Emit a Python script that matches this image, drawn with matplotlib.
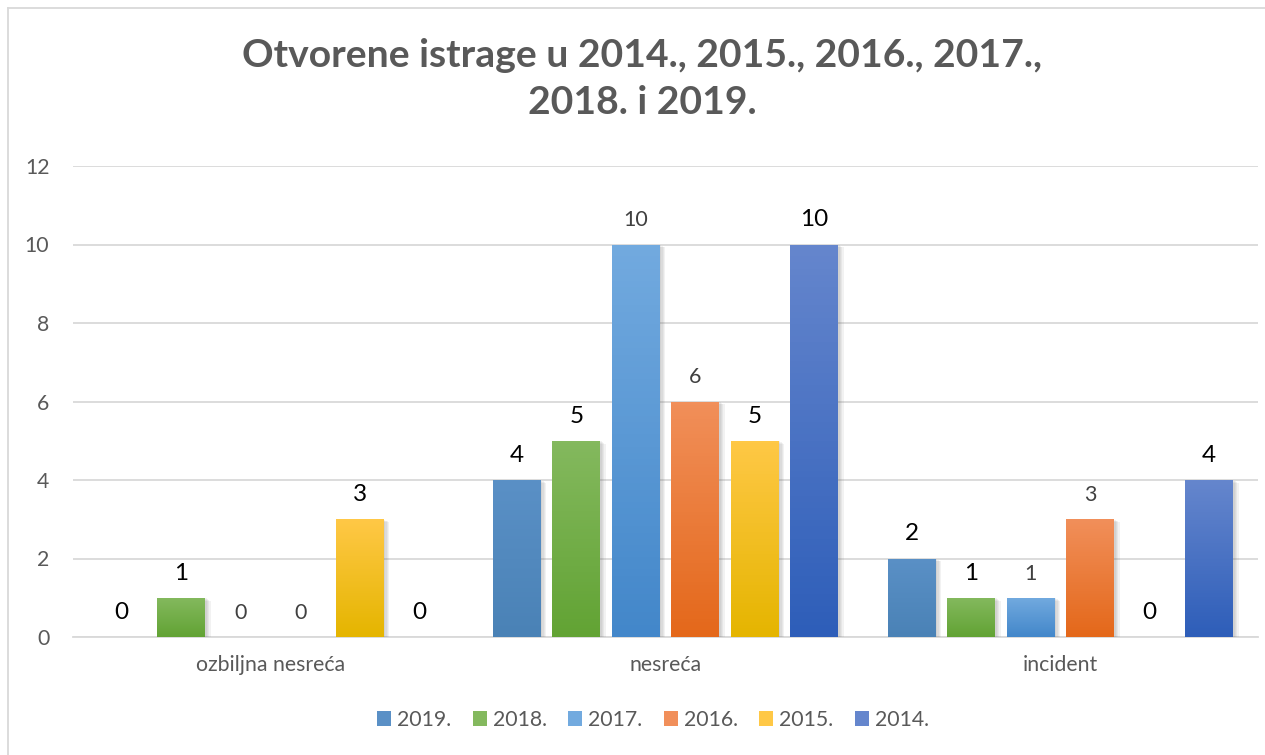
import numpy as np
import matplotlib
matplotlib.use("Agg")
import matplotlib.pyplot as plt
from matplotlib.colors import LinearSegmentedColormap
from matplotlib.patches import Patch
from matplotlib.lines import Line2D
import matplotlib.patheffects as pe

# data
categories = ["ozbiljna nesreća", "nesreća", "incident"]
series = ["2019.", "2018.", "2017.", "2016.", "2015.", "2014."]
v2019 = [0, 4, 2]
v2018 = [1, 5, 1]
v2017 = [0, 10, 1]
v2016 = [0, 6, 3]
v2015 = [3, 5, 0]
v2014 = [0, 10, 4]
values = [v2019, v2018, v2017, v2016, v2015, v2014]
yticks = [0, 2, 4, 6, 8, 10, 12]
title = "Otvorene istrage u 2014., 2015., 2016., 2017.,\n2018. i 2019."

# looks: (top colour, bottom colour), label style per series
grad = [("#5a90c6", "#4a82b6"),
        ("#84b95e", "#62a334"),
        ("#72aadf", "#4387ca"),
        ("#f18f5a", "#e4681a"),
        ("#ffc846", "#e5b500"),
        ("#6586cd", "#2e5eb9")]
bold_label = [True, True, False, False, True, True]

plt.rcParams['font.family'] = ['Lato', 'DejaVu Sans']
GREY = "#595959"
FS = 15.3

fig = plt.figure(figsize=(12.65, 7.55), dpi=100)
ax = fig.add_axes([73/1265, 1-637/755, 1185/1265, 471/755])

# chart border (only top/left visible in the reference)
fig.add_artist(Line2D([8/1265, 8/1265], [0, 1-8/755], transform=fig.transFigure,
                      color="#d9d9d9", lw=1.3))
fig.add_artist(Line2D([8/1265, 1], [1-8/755, 1-8/755], transform=fig.transFigure,
                      color="#d9d9d9", lw=1.3))

x = np.arange(len(categories))
step = 0.1506
width = 0.1215
# soft shadow: a few faint offset copies
shadow = [pe.SimplePatchShadow(offset=(o, -o/2), shadow_rgbFace="#707070", alpha=0.09)
          for o in (4, 3, 2, 1)] + [pe.Normal()]

for i, (name, vals) in enumerate(zip(series, values)):
    pos = x + (i - 2.5) * step
    bars = ax.bar(pos, vals, width, color=grad[i][1], zorder=3, label=name)
    cmap = LinearSegmentedColormap.from_list("g%d" % i, [grad[i][1], grad[i][0]])
    for b, v in zip(bars, vals):
        if v <= 0:
            b.set_visible(False)
            continue
        b.set_path_effects(shadow)
        bx, bw, bh = b.get_x(), b.get_width(), b.get_height()
        im = ax.imshow(np.linspace(0, 1, 64).reshape(-1, 1), cmap=cmap, origin="lower",
                       extent=[bx, bx + bw, 0, bh], aspect="auto", zorder=4)
        im.set_clip_path(b)
    for p, v in zip(pos, vals):
        if bold_label[i]:
            ax.annotate(str(v), (p, v), xytext=(0, 13), textcoords="offset points",
                        ha="center", va="baseline", fontsize=17.5, color="black", zorder=5)
        else:
            ax.annotate(str(v), (p, v), xytext=(0, 13), textcoords="offset points",
                        ha="center", va="baseline", fontsize=15.5, color="#404040", zorder=5)

ax.set_xlim(-0.5, 2.5)
ax.set_ylim(0, 12)
ax.set_yticks(yticks)
ax.set_xticks(x)
ax.set_xticklabels(categories)
ax.tick_params(axis="y", length=0, pad=17, labelsize=FS, labelcolor=GREY)
ax.tick_params(axis="x", length=0, pad=13, labelsize=FS, labelcolor=GREY)
ax.grid(axis="y", color="#d9d9d9", lw=1.3, zorder=0)
ax.set_axisbelow(True)
for s in ["top", "right", "left"]:
    ax.spines[s].set_visible(False)
ax.spines["bottom"].set_color("#d9d9d9")
ax.spines["bottom"].set_linewidth(1.3)
ax.spines["bottom"].set_zorder(2)

fig.text(0.5075, 1-79/755, title, ha="center", va="center", fontsize=28.2,
         fontweight="bold", color=GREY, linespacing=1.38)

handles = [Patch(facecolor=g[0], edgecolor="none") for g in grad]
fig.legend(handles, series, loc="center", bbox_to_anchor=(653/1265, 1-720/755),
           ncol=6, frameon=False, fontsize=FS, labelcolor=GREY,
           handlelength=0.65, handleheight=0.65, handletextpad=0.3, columnspacing=1.0)

fig.savefig("out.png", dpi=100)
